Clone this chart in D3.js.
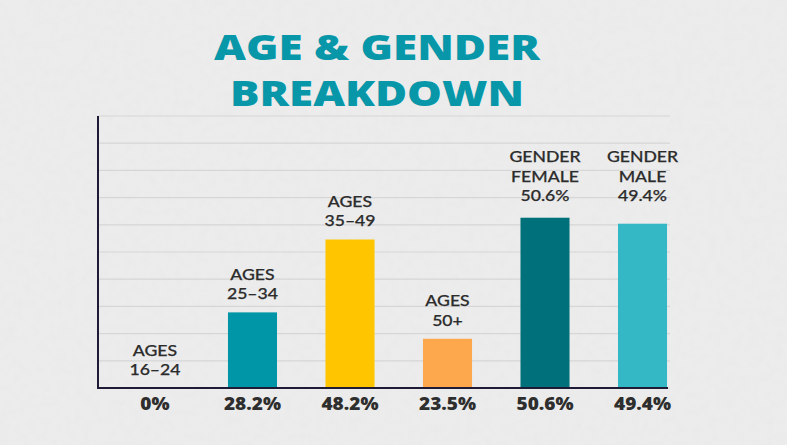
<!DOCTYPE html>
<html>
<head>
<meta charset="utf-8">
<script src="https://cdn.jsdelivr.net/npm/d3@7"></script>
<style>
  html, body { margin: 0; padding: 0; background: #ebebeb; }
  svg { display: block; }
</style>
</head>
<body>
<svg id="chart" width="787" height="445"></svg>
<script>
// ---- data ----
const titleLines = ["AGE & GENDER", "BREAKDOWN"];
const categories = ["16-24", "25-34", "35-49", "50+", "female", "male"];
const labelLines = [["AGES", "16–24"], ["AGES", "25–34"], ["AGES", "35–49"], ["AGES", "50+"],
                    ["GENDER", "FEMALE", "50.6%"], ["GENDER", "MALE", "49.4%"]];
const percentLabels = ["0%", "28.2%", "48.2%", "23.5%", "50.6%", "49.4%"];
// bar heights as read against the 10 gridline steps of the picture
const barLevels = [0, 2.78, 5.46, 1.81, 6.26, 6.04];
const groups = ["age", "age", "age", "age", "gender", "gender"];
const barColors = ["#0096a8", "#0096a8", "#ffc600", "#fda84c", "#00707b", "#35b8c6"];
const gridSteps = d3.range(0, 11);

const svg = d3.select("#chart");
const W = 787, H = 445;
const FONT = "'Open Sans', 'Noto Sans', sans-serif";
const LABEL_FONT = "Lato, 'Open Sans', sans-serif";

// background texture
const defs = svg.append("defs");
const f = defs.append("filter").attr("id", "grain").attr("x", 0).attr("y", 0).attr("width", "100%").attr("height", "100%");
f.append("feTurbulence").attr("type", "fractalNoise").attr("baseFrequency", 0.12).attr("numOctaves", 3).attr("seed", 7).attr("result", "n");
f.append("feColorMatrix").attr("in", "n").attr("type", "matrix")
  .attr("values", "0 0 0 0 0.6  0 0 0 0 0.6  0 0 0 0 0.6  0 0 0 -0.9 0.55");
svg.append("rect").attr("width", W).attr("height", H).attr("fill", "#ececec");
svg.append("rect").attr("width", W).attr("height", H).attr("filter", "url(#grain)").attr("opacity", 0.15);

// scales
const x = d3.scaleBand().domain(categories).range([98, 699.5]).paddingInner(0.497).paddingOuter(0.333);
const y = d3.scaleLinear().domain([0, 10]).range([388, 116]);

// gridlines
svg.append("g").selectAll("line").data(gridSteps).join("line")
  .attr("x1", 98).attr("x2", 670)
  .attr("y1", d => y(d)).attr("y2", d => y(d))
  .attr("stroke", "#d6d6d6").attr("stroke-width", 1.2);

// bars
svg.append("g").selectAll("rect").data(categories).join("rect")
  .attr("x", d => x(d)).attr("width", x.bandwidth())
  .attr("y", (d, i) => y(barLevels[i]))
  .attr("height", (d, i) => y(0) - y(barLevels[i]))
  .attr("fill", (d, i) => barColors[i]);

// axes lines
svg.append("line").attr("x1", 98).attr("x2", 98).attr("y1", 116).attr("y2", 389)
  .attr("stroke", "#1d1b35").attr("stroke-width", 2);
svg.append("line").attr("x1", 97).attr("x2", 668).attr("y1", 388).attr("y2", 388)
  .attr("stroke", "#1d1b35").attr("stroke-width", 2);

// category labels
const genderTop = d3.min(categories.filter((c, i) => groups[i] === "gender"), c => y(barLevels[categories.indexOf(c)]));
const lineH = 19.5;
const catG = svg.append("g").attr("font-family", LABEL_FONT)
  .attr("font-size", 15.6).attr("font-weight", 500).attr("fill", "#2c2c2c")
  .attr("text-anchor", "middle");
categories.forEach((c, i) => {
  const lines = labelLines[i];
  const bottom = groups[i] === "gender" ? genderTop - 16.5 : y(barLevels[i]) - 13;
  const cx = x(c) + x.bandwidth() / 2;
  lines.forEach((s, j) => {
    const t = catG.append("text").attr("x", cx).attr("y", bottom - (lines.length - 1 - j) * lineH).text(s);
    const w = t.node().getComputedTextLength();
    t.attr("textLength", w * 1.13).attr("lengthAdjust", "spacingAndGlyphs")
     .attr("stroke", "#2c2c2c").attr("stroke-width", 0.25);
  });
});

// bottom percent labels
svg.append("g").selectAll("text").data(categories).join("text")
  .attr("x", d => x(d) + x.bandwidth() / 2)
  .attr("y", 410)
  .attr("text-anchor", "middle")
  .attr("font-family", FONT)
  .attr("font-weight", 800).attr("font-size", 17)
  .attr("fill", "#2e2e2e")
  .text((d, i) => percentLabels[i])
  .each(function () {
    const w = this.getComputedTextLength();
    d3.select(this).attr("textLength", w * 1.12).attr("lengthAdjust", "spacingAndGlyphs");
  });

// title
const titleWidths = [326, 294];
svg.append("g").selectAll("text").data(titleLines).join("text")
  .attr("x", 377).attr("y", (d, i) => i === 0 ? 59.5 : 106)
  .attr("text-anchor", "middle")
  .attr("font-family", FONT)
  .attr("font-weight", 800).attr("font-size", 35.5)
  .attr("fill", "#0797a9")
  .attr("textLength", (d, i) => titleWidths[i]).attr("lengthAdjust", "spacingAndGlyphs")
  .text(d => d);
</script>
</body>
</html>
